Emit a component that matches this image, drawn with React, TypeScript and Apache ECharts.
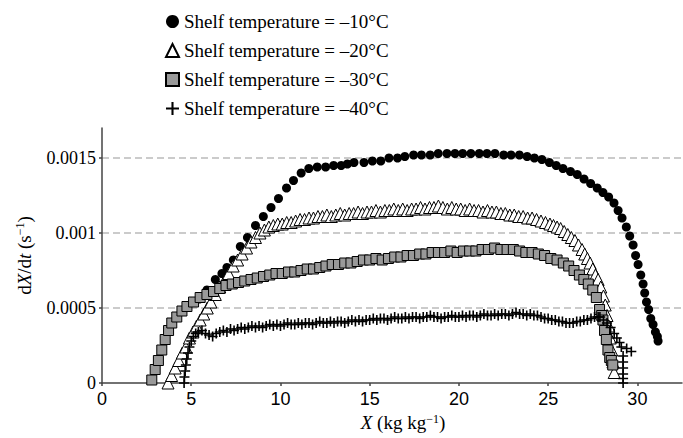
import React, { useEffect, useRef } from "react";
import * as echarts from "echarts";

const seriesNames = [
  "Shelf temperature = –10°C",
  "Shelf temperature = –20°C",
  "Shelf temperature = –30°C",
  "Shelf temperature = –40°C",
];

const xTicks = [0, 5, 10, 15, 20, 25, 30];
const yTicks = [0, 0.0005, 0.001, 0.0015];
const yTickLabels = ["0", "0.0005", "0.001", "0.0015"];

const t10: [number, number][] = [
  [5.45, 0.00056], [5.88, 0.00062], [6.35, 0.00069], [6.72, 0.00073], [7.0, 0.00077], [7.36, 0.00082],
  [7.75, 0.00091], [8.15, 0.00097], [8.6, 0.00105], [9.04, 0.00111], [9.47, 0.00117], [9.89, 0.00123],
  [10.34, 0.0013], [10.73, 0.00135], [11.16, 0.0014], [11.59, 0.00143], [12.06, 0.00144], [12.53, 0.00144],
  [12.98, 0.00145], [13.4, 0.00145], [13.75, 0.00146], [14.12, 0.00147], [14.68, 0.00147], [15.15, 0.00148],
  [15.62, 0.00148], [16.08, 0.0015], [16.56, 0.0015], [16.97, 0.00151], [17.46, 0.00152], [17.9, 0.00152],
  [18.39, 0.00152], [18.84, 0.00153], [19.33, 0.00153], [19.78, 0.00153], [20.21, 0.00153], [20.67, 0.00153],
  [21.14, 0.00153], [21.57, 0.00153], [22.02, 0.00153], [22.51, 0.00152], [22.92, 0.00152], [23.39, 0.00152],
  [23.82, 0.00151], [24.23, 0.0015], [24.65, 0.00149], [25.07, 0.00147], [25.45, 0.00145], [25.83, 0.00143],
  [26.25, 0.00141], [26.63, 0.00139], [27.01, 0.00136], [27.38, 0.00133], [27.75, 0.0013], [28.07, 0.00127],
  [28.39, 0.00124], [28.69, 0.0012], [28.92, 0.00115], [29.14, 0.0011], [29.38, 0.00104], [29.57, 0.00098],
  [29.76, 0.00092], [29.9, 0.00085], [30.04, 0.00079], [30.19, 0.00072], [30.32, 0.00066], [30.41, 0.0006],
  [30.51, 0.00054], [30.63, 0.00049], [30.75, 0.00043], [30.88, 0.00039], [31.01, 0.00034], [31.12, 0.00031],
  [31.16, 0.00028],
];

const t20: [number, number][] = [
  [3.7, 0.0], [3.9, 0.00005], [4.1, 0.0001], [4.3, 0.00015], [4.5, 0.0002], [4.7, 0.00024], [4.9, 0.0003],
  [5.1, 0.00034], [5.3, 0.00038], [5.5, 0.00042], [5.7, 0.00046], [5.9, 0.0005], [6.1, 0.00054], [6.35, 0.00059],
  [6.6, 0.00064], [6.85, 0.00068], [7.1, 0.00073], [7.35, 0.00078], [7.6, 0.00082], [7.85, 0.00086], [8.1, 0.0009],
  [8.35, 0.00094], [8.6, 0.00097], [8.85, 0.001], [9.1, 0.00102], [9.35, 0.00104], [9.6, 0.00105], [9.85, 0.00106],
  [10.1, 0.00106], [10.35, 0.00107], [10.6, 0.00107], [10.85, 0.00108], [11.1, 0.00109], [11.35, 0.00109],
  [11.6, 0.0011], [11.85, 0.0011], [12.1, 0.00111], [12.35, 0.00111], [12.6, 0.00112], [12.85, 0.00111],
  [13.1, 0.00112], [13.35, 0.00113], [13.6, 0.00112], [13.85, 0.00113], [14.1, 0.00113], [14.35, 0.00114],
  [14.6, 0.00113], [14.85, 0.00114], [15.1, 0.00114], [15.35, 0.00115], [15.6, 0.00114], [15.85, 0.00115],
  [16.1, 0.00115], [16.35, 0.00116], [16.6, 0.00115], [16.85, 0.00116], [17.1, 0.00115], [17.35, 0.00116],
  [17.6, 0.00116], [17.85, 0.00117], [18.1, 0.00116], [18.35, 0.00117], [18.6, 0.00117], [18.85, 0.00118],
  [19.1, 0.00117], [19.35, 0.00116], [19.6, 0.00117], [19.85, 0.00116], [20.1, 0.00116], [20.35, 0.00115],
  [20.6, 0.00116], [20.85, 0.00115], [21.1, 0.00115], [21.35, 0.00114], [21.6, 0.00115], [21.85, 0.00114],
  [22.1, 0.00114], [22.35, 0.00113], [22.6, 0.00113], [22.85, 0.00112], [23.1, 0.00112], [23.35, 0.00111],
  [23.6, 0.00111], [23.85, 0.0011], [24.1, 0.0011], [24.35, 0.00109], [24.6, 0.00108], [24.85, 0.00107],
  [25.1, 0.00106], [25.3, 0.00105], [25.5, 0.00104], [25.7, 0.00103], [25.9, 0.00101], [26.1, 0.00099],
  [26.3, 0.00097], [26.5, 0.00095], [26.7, 0.00092], [26.9, 0.00089], [27.05, 0.00086], [27.2, 0.00083],
  [27.35, 0.0008], [27.5, 0.00076], [27.65, 0.00072], [27.8, 0.00069], [27.95, 0.00064], [28.1, 0.00058],
  [28.2, 0.00052], [28.3, 0.00045], [28.4, 0.00038], [28.48, 0.0003], [28.56, 0.00022], [28.63, 0.00014],
  [28.7, 0.00007],
];

const t30: [number, number][] = [
  [2.79, 0.00002], [2.98, 0.00009], [3.16, 0.00015], [3.35, 0.00022], [3.54, 0.00029], [3.73, 0.00035],
  [3.91, 0.0004], [4.19, 0.00044], [4.48, 0.00048], [4.76, 0.00051], [5.13, 0.00054], [5.5, 0.00057],
  [5.88, 0.00059], [6.25, 0.00061], [6.6, 0.00063], [6.95, 0.00065], [7.3, 0.00066], [7.65, 0.00067],
  [8.0, 0.00068], [8.35, 0.00069], [8.7, 0.0007], [9.05, 0.00071], [9.4, 0.00072], [9.75, 0.00073],
  [10.1, 0.00073], [10.45, 0.00074], [10.8, 0.00074], [11.15, 0.00075], [11.5, 0.00076], [11.85, 0.00076],
  [12.2, 0.00077], [12.55, 0.00078], [12.9, 0.00079], [13.25, 0.00079], [13.6, 0.0008], [13.95, 0.0008],
  [14.3, 0.00081], [14.65, 0.00082], [15.0, 0.00082], [15.35, 0.00083], [15.7, 0.00082], [16.05, 0.00083],
  [16.4, 0.00084], [16.75, 0.00084], [17.1, 0.00085], [17.45, 0.00085], [17.8, 0.00086], [18.15, 0.00086],
  [18.5, 0.00087], [18.85, 0.00087], [19.2, 0.00087], [19.55, 0.00088], [19.9, 0.00087], [20.25, 0.00088],
  [20.6, 0.00088], [20.95, 0.00088], [21.3, 0.00089], [21.65, 0.00089], [22.0, 0.0009], [22.35, 0.00089],
  [22.7, 0.00089], [23.05, 0.00089], [23.4, 0.00088], [23.75, 0.00087], [24.1, 0.00087], [24.45, 0.00086],
  [24.8, 0.00085], [25.15, 0.00083], [25.5, 0.00082], [25.85, 0.0008], [26.15, 0.00078], [26.45, 0.00075],
  [26.75, 0.00072], [27.0, 0.00069], [27.25, 0.00066], [27.5, 0.00062], [27.7, 0.00057], [27.88, 0.00049],
  [28.0, 0.00045], [28.07, 0.00042], [28.16, 0.00035], [28.26, 0.00029], [28.35, 0.00022], [28.45, 0.00017],
  [28.54, 0.00015], [28.62, 0.00012],
];

const t40: [number, number][] = [
  [4.6, 0.0], [4.62, 0.00004], [4.66, 0.00008], [4.7, 0.00012], [4.75, 0.00016], [4.82, 0.0002], [4.9, 0.00024],
  [5.0, 0.00028], [5.12, 0.00031], [5.25, 0.00033], [5.4, 0.00034], [5.6, 0.00035], [5.8, 0.00033], [6.0, 0.00032],
  [6.2, 0.00031], [6.4, 0.00033], [6.6, 0.00034], [6.8, 0.00035], [7.0, 0.00034], [7.2, 0.00036], [7.4, 0.00035],
  [7.6, 0.00036], [7.8, 0.00037], [8.0, 0.00036], [8.2, 0.00037], [8.4, 0.00038], [8.6, 0.00037], [8.8, 0.00038],
  [9.0, 0.00037], [9.2, 0.00038], [9.4, 0.00039], [9.6, 0.00038], [9.8, 0.00039], [10.0, 0.00038], [10.2, 0.00039],
  [10.4, 0.0004], [10.6, 0.00039], [10.8, 0.00039], [11.0, 0.0004], [11.2, 0.00039], [11.4, 0.0004], [11.6, 0.0004],
  [11.8, 0.00039], [12.0, 0.0004], [12.2, 0.00041], [12.4, 0.0004], [12.6, 0.0004], [12.8, 0.00041], [13.0, 0.0004],
  [13.2, 0.00041], [13.4, 0.00041], [13.6, 0.0004], [13.8, 0.00041], [14.0, 0.00042], [14.2, 0.00041], [14.4, 0.00042],
  [14.6, 0.00041], [14.8, 0.00042], [15.0, 0.00042], [15.2, 0.00043], [15.4, 0.00042], [15.6, 0.00043], [15.8, 0.00043],
  [16.0, 0.00042], [16.2, 0.00043], [16.4, 0.00044], [16.6, 0.00043], [16.8, 0.00043], [17.0, 0.00044], [17.2, 0.00043],
  [17.4, 0.00044], [17.6, 0.00044], [17.8, 0.00043], [18.0, 0.00044], [18.2, 0.00044], [18.4, 0.00045], [18.6, 0.00044],
  [18.8, 0.00044], [19.0, 0.00043], [19.2, 0.00044], [19.4, 0.00044], [19.6, 0.00045], [19.8, 0.00044], [20.0, 0.00044],
  [20.2, 0.00045], [20.4, 0.00044], [20.6, 0.00045], [20.8, 0.00045], [21.0, 0.00044], [21.2, 0.00045], [21.4, 0.00046],
  [21.6, 0.00045], [21.8, 0.00045], [22.0, 0.00046], [22.2, 0.00045], [22.4, 0.00046], [22.6, 0.00046], [22.8, 0.00045],
  [23.0, 0.00046], [23.2, 0.00047], [23.4, 0.00046], [23.6, 0.00046], [23.8, 0.00045], [24.0, 0.00046], [24.2, 0.00045],
  [24.4, 0.00045], [24.6, 0.00044], [24.8, 0.00043], [25.0, 0.00043], [25.2, 0.00042], [25.4, 0.00042], [25.6, 0.00041],
  [25.8, 0.00041], [26.0, 0.0004], [26.2, 0.0004], [26.4, 0.0004], [26.6, 0.00041], [26.8, 0.00041], [27.0, 0.00042],
  [27.2, 0.00042], [27.4, 0.00043], [27.6, 0.00044], [27.8, 0.00044], [27.9, 0.00044], [28.1, 0.00042], [28.3, 0.0004],
  [28.5, 0.00037], [28.7, 0.00033], [28.85, 0.0003], [29.0, 0.00027], [29.1, 0.00024], [29.4, 0.00023], [29.66, 0.00021],
  [29.2, 0.00018], [29.2, 0.00014], [29.2, 0.0001], [29.2, 0.00006], [29.2, 0.00003], [29.2, 0.0],
];

const PLUS = "path://M4.2,0H5.8V4.2H10V5.8H5.8V10H4.2V5.8H0V4.2H4.2Z";
const SERIF = "Liberation Serif, Times New Roman, serif";
const SANS = "Liberation Sans, Arial, sans-serif";

function tickIndex(v: number, ticks: number[]) {
  return ticks.findIndex((t) => Math.abs(t - v) < 1e-9);
}

export default function App() {
  const ref = useRef<HTMLDivElement>(null);
  useEffect(() => {
    if (!ref.current) return;
    const chart = echarts.init(ref.current, null, { renderer: "svg" });
    const supRich = {
      i: { fontFamily: SERIF, fontSize: 19, fontStyle: "italic", color: "#000" },
      sup: { fontFamily: SERIF, fontSize: 12, color: "#000", verticalAlign: "top", padding: [0, 0, 8, 0] },
    };
    chart.setOption({
      animation: false,
      backgroundColor: "#fff",
      grid: { left: 102, right: 1, top: 128, bottom: 55 },
      legend: {
        orient: "vertical",
        left: 160,
        top: 7,
        itemGap: 10,
        itemWidth: 13,
        itemHeight: 13,
        data: seriesNames,
        selectedMode: false,
        textStyle: { fontFamily: SERIF, fontSize: 19, color: "#000" },
      },
      xAxis: {
        type: "value",
        min: 0,
        max: 32.5,
        interval: 5,
        z: 1,
        name: "{i|X} (kg kg{sup|−1})",
        nameLocation: "middle",
        nameGap: 28,
        nameTextStyle: { fontFamily: SERIF, fontSize: 19, color: "#000", padding: [0, 0, 0, 22], rich: supRich },
        axisLine: { lineStyle: { color: "#444", width: 1.5 } },
        axisTick: { length: 3, customValues: xTicks, lineStyle: { color: "#444", width: 1.5 } },
        axisLabel: {
          customValues: xTicks,
          margin: 7,
          fontFamily: SANS,
          fontSize: 18,
          color: "#000",
          formatter: (v: number) => (tickIndex(v, xTicks) >= 0 ? String(v) : ""),
        },
        splitLine: { show: false },
      },
      yAxis: {
        type: "value",
        min: 0,
        max: 0.0017,
        interval: 0.0005,
        name: "d{i|X}/d{i|t} (s{sup|−1})",
        nameLocation: "middle",
        nameRotate: 90,
        nameGap: 68,
        nameTextStyle: { fontFamily: SERIF, fontSize: 19, color: "#000", rich: supRich },
        axisLine: { show: true, lineStyle: { color: "#444", width: 1.5 } },
        axisTick: { show: true, length: 3, customValues: yTicks, lineStyle: { color: "#444", width: 1.5 } },
        axisLabel: {
          customValues: yTicks,
          margin: 6,
          fontFamily: SERIF,
          fontSize: 18,
          color: "#000",
          formatter: (v: number) => {
            const i = tickIndex(v, yTicks);
            return i >= 0 ? yTickLabels[i] : "";
          },
        },
        splitLine: {
          show: true,
          showMinLine: false,
          lineStyle: { type: [7, 4], color: "#bbb", width: 1.5 },
        },
      },
      series: [
        {
          name: seriesNames[0],
          type: "scatter",
          data: t10,
          symbol: "circle",
          symbolSize: 9,
          itemStyle: { color: "#000", opacity: 1 },
        },
        {
          name: seriesNames[1],
          type: "scatter",
          data: t20,
          symbol: "triangle",
          symbolSize: 12,
          itemStyle: { color: "#fff", borderColor: "#000", borderWidth: 1, opacity: 1 },
        },
        {
          name: seriesNames[2],
          type: "scatter",
          data: t30,
          symbol: "rect",
          symbolSize: 10,
          itemStyle: { color: "#999", borderColor: "#000", borderWidth: 1, opacity: 1 },
        },
        {
          name: seriesNames[3],
          type: "scatter",
          data: t40,
          symbol: PLUS,
          symbolSize: 10,
          itemStyle: { color: "#000", opacity: 1 },
        },
      ],
    });
    return () => chart.dispose();
  }, []);
  return (
    <div
      ref={ref}
      style={{ position: "fixed", left: 0, top: 0, width: 683, height: 438, background: "#fff" }}
    />
  );
}
